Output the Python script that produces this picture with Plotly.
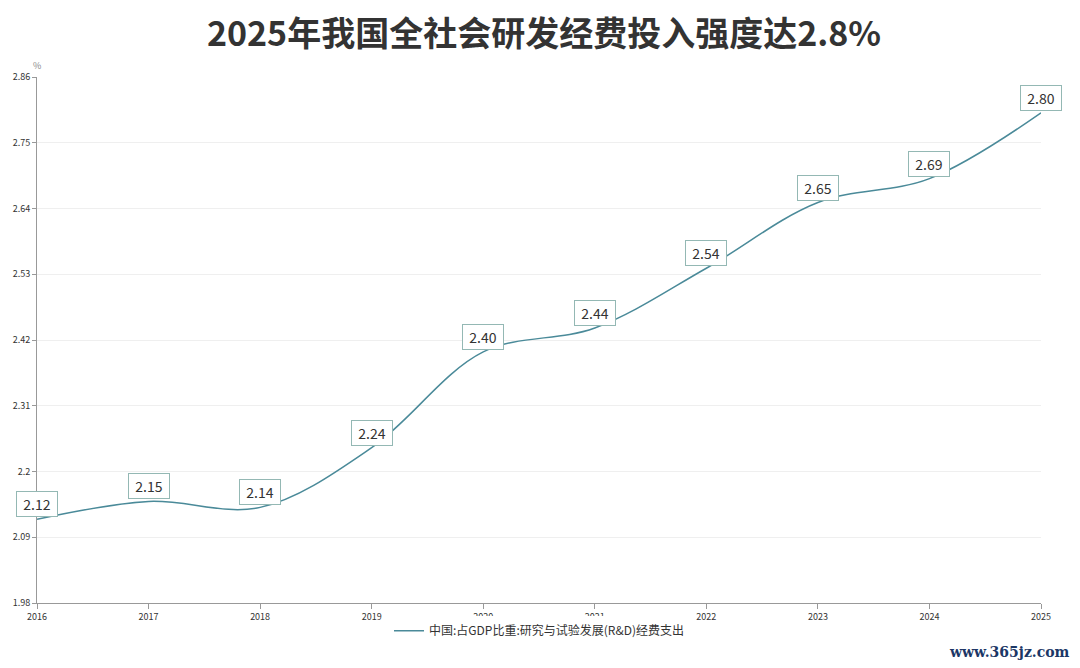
import plotly.graph_objects as go

years = [2016, 2017, 2018, 2019, 2020, 2021, 2022, 2023, 2024, 2025]
rd_share = [2.12, 2.15, 2.14, 2.24, 2.40, 2.44, 2.54, 2.65, 2.69, 2.80]
y_ticks = [1.98, 2.09, 2.2, 2.31, 2.42, 2.53, 2.64, 2.75, 2.86]

title = "2025年我国全社会研发经费投入强度达2.8%"
series_name = "中国:占GDP比重:研究与试验发展(R&D)经费支出"

line_color = "#4a8a99"
font_cjk = "Noto Sans CJK SC, Noto Sans, sans-serif"

fig = go.Figure()
fig.add_trace(go.Scatter(
    x=years, y=rd_share, name=series_name, mode="lines",
    line=dict(color=line_color, width=1.5, shape="spline", smoothing=1.0),
))

# value boxes sitting just above each point
for x, y in zip(years, rd_share):
    fig.add_annotation(
        x=x, y=y, text=f"{y:.2f}", showarrow=False,
        xanchor="center", yanchor="bottom", yshift=2,
        font=dict(size=14, color="#333333", family=font_cjk),
        bgcolor="white", bordercolor="#94b8b4", borderwidth=1, borderpad=2,
        width=36,
    )

fig.add_annotation(
    text="%", xref="paper", yref="paper", x=0, y=1, xanchor="center",
    yanchor="bottom", yshift=3, showarrow=False,
    font=dict(size=9, color="#888888", family=font_cjk),
)
# site watermark, bottom right
fig.add_annotation(
    text="<b>www.365jz.com</b>", xref="paper", yref="paper", x=1, y=-0.093,
    xanchor="right", yanchor="middle", xshift=31, showarrow=False,
    font=dict(size=14, color="#1c3766", family="DejaVu Serif"),
)

# page body has an 8px margin, so the figure is 8px smaller each way
fig.update_layout(
    width=1072, height=660,
    paper_bgcolor="white", plot_bgcolor="white",
    margin=dict(l=29, r=39, t=69, b=65),
    title=dict(text=f"<b>{title}</b>", x=0.5, xanchor="center",
               y=1 - 26 / 660, yanchor="middle",
               font=dict(size=34, color="#333333", family=font_cjk)),
    showlegend=True,
    legend=dict(orientation="h", x=0.5, xanchor="center", y=-0.025,
                yanchor="top", font=dict(size=12, color="#333333",
                                          family=font_cjk),
                itemwidth=30),
    xaxis=dict(range=[2016, 2025], tickvals=years, ticktext=[str(y) for y in years],
               showgrid=False, zeroline=False, showline=True, automargin=False,
               linecolor="#999999", linewidth=1, ticks="outside", ticklen=5,
               tickcolor="#999999",
               tickfont=dict(size=9, color="#333333", family=font_cjk)),
    yaxis=dict(range=[1.98, 2.86], tickvals=y_ticks,
               ticktext=[str(v) for v in y_ticks], automargin=False,
               showgrid=True, gridcolor="#efefef", gridwidth=1,
               zeroline=False, showline=True, linecolor="#999999",
               linewidth=1, ticks="outside", ticklen=4, tickcolor="#999999",
               tickfont=dict(size=9, color="#333333", family=font_cjk)),
)

fig.write_html("out.html")
